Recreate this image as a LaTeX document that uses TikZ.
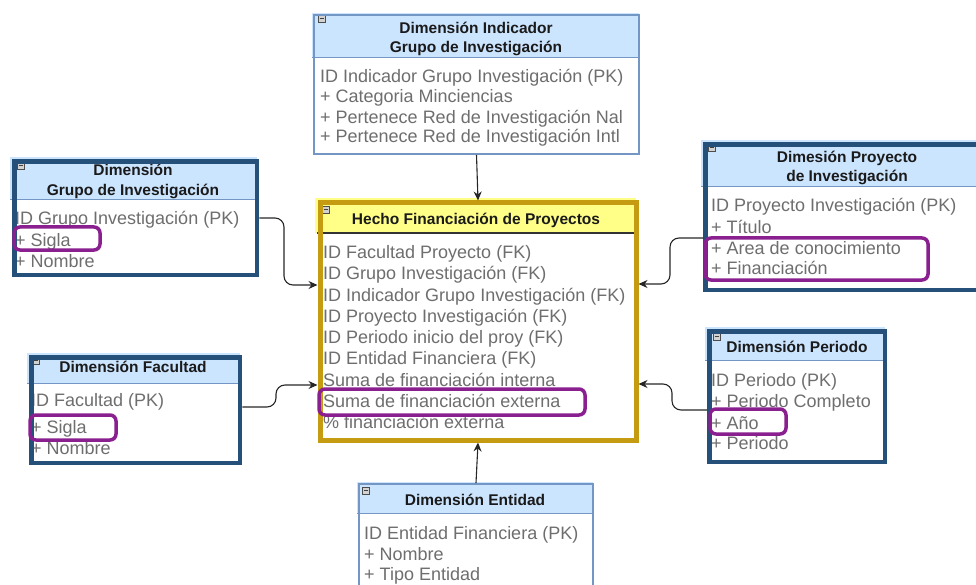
\documentclass[tikz,border=0pt]{standalone}
\usepackage{fontspec}
\setmainfont{Liberation Sans}
\usetikzlibrary{arrows.meta}
\definecolor{dkblue}{HTML}{24507A}
\definecolor{ltborder}{HTML}{7396C4}
\definecolor{hdrblue}{HTML}{CCE5FF}
\definecolor{gold}{HTML}{C59B12}
\definecolor{hdryellow}{HTML}{FFFF88}
\definecolor{hlpurple}{HTML}{8A1F8F}
\definecolor{bodygray}{HTML}{6E6E6E}
\definecolor{titleblack}{HTML}{1A1A1A}
\tikzset{
  darkbox/.style={draw=dkblue, line width=4.5pt, rectangle, inner sep=0pt, anchor=north west},
  lightbox/.style={draw=ltborder, line width=2pt, rectangle, inner sep=0pt, anchor=north west},
  factbox/.style={draw=gold, line width=5pt, rectangle, inner sep=0pt, anchor=north west},
  rowtext/.style={anchor=base west, inner sep=0pt, text=bodygray, font=\fontsize{18}{21}\selectfont},
  titletext/.style={anchor=base, inner sep=0pt, text=titleblack, font=\fontsize{15.5}{18}\selectfont\bfseries},
  hl/.style={draw=hlpurple, line width=3.5pt, rounded corners=6pt},
  sepline/.style={draw=ltborder, line width=1pt},
  conn/.style={draw=black!85, line width=1.1pt, rounded corners=9pt, -{Stealth[length=9pt,width=8pt]}},
  collapse/.pic={
    \draw[fill=gray!35, draw=gray!60!black, line width=0.7pt] (0,0) rectangle (7,7);
    \draw[black!75, line width=1pt] (1.5,3.5) -- (5.5,3.5);
  }
}
\begin{document}
\begin{tikzpicture}[x=1pt,y=-1pt]
\useasboundingbox (0,0) rectangle (976,585);

% ---------- backgrounds ----------
\fill[white] (10,157) rectangle (257,275);
\fill[hdrblue] (10,157) rectangle (257,200);
\fill[white] (27,353) rectangle (240,463);
\fill[hdrblue] (27,353) rectangle (240,383);
\fill[white] (701,140) rectangle (982,290);
\fill[hdrblue] (701,140) rectangle (982,187);
\fill[white] (705,327) rectangle (885,462);
\fill[hdrblue] (705,327) rectangle (885,360);
\fill[white] (312,13) rectangle (639,154);
\fill[hdrblue] (312,13) rectangle (639,58);
\fill[white] (357,482) rectangle (593,600);
\fill[hdrblue] (357,482) rectangle (593,513);
\fill[white] (315,198) rectangle (636,440);
\fill[hdryellow] (315,198) rectangle (636,233);

% ---------- Indicador ----------
\node[titletext] (ind-t1) at (476,33.5) {Dimensión Indicador};
\node[titletext] (ind-t2) at (476,52.5) {Grupo de Investigación};
\node[rowtext] (ind-r1) at (320,82.5) {ID Indicador Grupo Investigación (PK)};
\node[rowtext] (ind-r2) at (320,103) {+ Categoria Minciencias};
\node[rowtext] (ind-r3) at (320,123.5) {+ Pertenece Red de Investigación Nal};
\node[rowtext] (ind-r4) at (320,143) {+ Pertenece Red de Investigación Intl};
\draw[sepline] (312,58) -- (639,58);
\pic at (318,15) {collapse};
\node[lightbox, minimum width=325pt, minimum height=139pt] (ind) at (313,14) {};

% ---------- Grupo ----------
\node[titletext] (gru-t1) at (133,175.5) {Dimensión};
\node[titletext] (gru-t2) at (133,195.5) {Grupo de Investigación};
\node[rowtext] (gru-r1) at (15,225) {ID Grupo Investigación (PK)};
\node[rowtext] (gru-r2) at (15,246.5) {+ Sigla};
\node[rowtext] (gru-r3) at (15,267) {+ Nombre};
\draw[sepline] (10,200) -- (257,200);
\pic at (17,162) {collapse};
\node[darkbox, minimum width=242.5pt, minimum height=113.5pt] (gru) at (12.25,159.25) {};

% ---------- Facultad ----------
\node[titletext] (fac-t1) at (133,372.5) {Dimensión Facultad};
\node[rowtext] (fac-r1) at (31,406.5) {ID Facultad (PK)};
\node[rowtext] (fac-r2) at (31,433.5) {+ Sigla};
\node[rowtext] (fac-r3) at (31,454) {+ Nombre};
\draw[sepline] (27,383) -- (240,383);
\pic at (32,357) {collapse};
\node[darkbox, minimum width=208.5pt, minimum height=105.5pt] (fac) at (29.25,355.25) {};

% ---------- Proyecto ----------
\node[titletext] (pro-t1) at (847,162.5) {Dimesión Proyecto};
\node[titletext] (pro-t2) at (847,182) {de Investigación};
\node[rowtext] (pro-r1) at (711,211.5) {ID Proyecto Investigación (PK)};
\node[rowtext] (pro-r2) at (711,233.5) {+ Título};
\node[rowtext] (pro-r3) at (711,254.5) {+ Area de conocimiento};
\node[rowtext] (pro-r4) at (711,274.5) {+ Financiación};
\draw[sepline] (701,187) -- (982,187);
\pic at (708,144) {collapse};
\node[darkbox, minimum width=276.5pt, minimum height=145.5pt] (pro) at (703.25,142.25) {};

% ---------- Periodo ----------
\node[titletext] (per-t1) at (797,352.5) {Dimensión Periodo};
\node[rowtext] (per-r1) at (711,386.5) {ID Periodo (PK)};
\node[rowtext] (per-r2) at (711,407.5) {+ Periodo Completo};
\node[rowtext] (per-r3) at (711,429.5) {+ Año};
\node[rowtext] (per-r4) at (711,449.5) {+ Periodo};
\draw[sepline] (705,360) -- (885,360);
\pic at (713,333) {collapse};
\node[darkbox, minimum width=175.5pt, minimum height=130.5pt] (per) at (707.25,329.25) {};

% ---------- Entidad ----------
\node[titletext] (ent-t1) at (475,505.5) {Dimensión Entidad};
\node[rowtext] (ent-r1) at (364,539.5) {ID Entidad Financiera (PK)};
\node[rowtext] (ent-r2) at (364,560) {+ Nombre};
\node[rowtext] (ent-r3) at (364,580.5) {+ Tipo Entidad};
\draw[sepline] (357,513) -- (593,513);
\pic at (362,487) {collapse};
\node[lightbox, minimum width=234pt, minimum height=116pt] (ent) at (358,483) {};

% ---------- Hecho ----------
\node[titletext] (hec-t1) at (476,224.5) {Hecho Financiación de Proyectos};
\node[rowtext] (hec-r1) at (323,258.5) {ID Facultad Proyecto (FK)};
\node[rowtext] (hec-r2) at (323,279.5) {ID Grupo Investigación (FK)};
\node[rowtext] (hec-r3) at (323,301.5) {ID Indicador Grupo Investigación (FK)};
\node[rowtext] (hec-r4) at (323,322.5) {ID Proyecto Investigación (FK)};
\node[rowtext] (hec-r5) at (323,343.5) {ID Periodo inicio del proy (FK)};
\node[rowtext] (hec-r6) at (323,364.5) {ID Entidad Financiera (FK)};
\node[rowtext] (hec-r7) at (323,386.5) {Suma de financiación interna};
\node[rowtext] (hec-r8) at (323,407.5) {Suma de financiación externa};
\node[rowtext] (hec-r9) at (323,428.5) {\% financiación externa};
\draw[black!80, line width=1.6pt] (317,233) -- (634,233);
\pic at (322,206) {collapse};
\node[factbox, minimum width=316pt, minimum height=237pt] (hec) at (317.5,200.5) {};

% ---------- highlights ----------
\draw[hl] (14,227) rectangle (100,250);
\draw[hl] (30,415) rectangle (116,440);
\draw[hl] (319,389) rectangle (585,415);
\draw[hl] (705,238) rectangle (928,280);
\draw[hl] (710,409) rectangle (786,434);

% ---------- connectors ----------
\draw[conn] (ind.south) -- (hec.north);
\draw[conn] (ent.north) -- (hec.south);
\draw[conn] (gru.east |- 0,218) -- (284,218) -- (284,285) -- (hec.west |- 0,285);
\draw[conn] (fac.east |- 0,407) -- (276,407) -- (276,385) -- (hec.west |- 0,385);
\draw[conn] (pro.west |- 0,238) -- (670,238) -- (670,284) -- (hec.east |- 0,284);
\draw[conn] (per.west |- 0,410) -- (672,410) -- (672,384) -- (hec.east |- 0,384);
\end{tikzpicture}
\end{document}
